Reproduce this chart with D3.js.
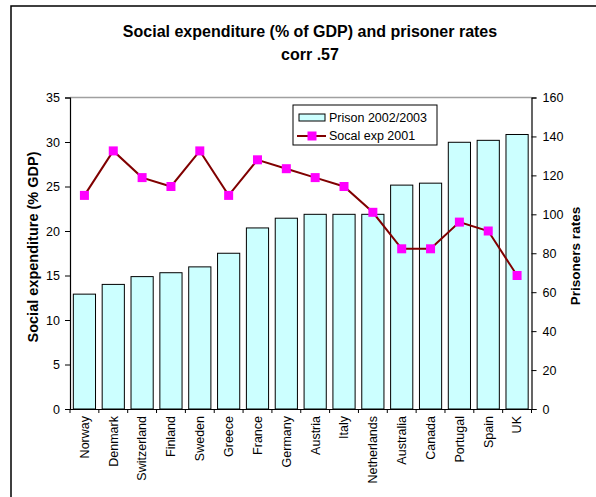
<!DOCTYPE html>
<html><head><meta charset="utf-8">
<script src="https://cdn.jsdelivr.net/npm/d3@7"></script>
<style>body{margin:0;background:#fff}svg{display:block;font-family:"Liberation Sans",Arial,sans-serif}</style>
</head><body><svg id="c" width="596" height="497"></svg>
<script>
const countries = ["Norway","Denmark","Switzerland","Finland","Sweden","Greece","France","Germany","Austria","Italy","Netherlands","Australia","Canada","Portugal","Spain","UK"];
const prison = [59,64,68,70,73,80,93,98,100,100,100,115,116,137,138,141];
const socialExp = [24,29,26,25,29,24,28,27,26,25,22.1,18,18,21,20,15];
const leftTicks = [0,5,10,15,20,25,30,35];
const rightTicks = [0,20,40,60,80,100,120,140,160];
const titleLines = ["Social expenditure (% of GDP) and prisoner rates","corr .57"];
const seriesNames = ["Prison 2002/2003","Socal exp 2001"];

const svg = d3.select("#c");
const L=70, R=531.5, T=97.5, B=409;

// outer border
svg.append("path").attr("d","M11,497V6H596").attr("fill","none").attr("stroke","#000").attr("stroke-width",1.5);

// title
svg.append("text").attr("x",310).attr("y",37).attr("text-anchor","middle").attr("font-size",16).attr("font-weight","bold").text(titleLines[0]);
svg.append("text").attr("x",310).attr("y",60).attr("text-anchor","middle").attr("font-size",16).attr("font-weight","bold").text(titleLines[1]);

const x = d3.scaleBand().domain(countries).range([L,R]).padding(0);
const yL = d3.scaleLinear().domain([0,35]).range([B,T]);
const yR = d3.scaleLinear().domain([0,160]).range([B,T]);
const bw = x.bandwidth()/1.3;

// top plot border
svg.append("line").attr("x1",L).attr("x2",R).attr("y1",T).attr("y2",T).attr("stroke","#a0a0a0").attr("stroke-width",1.5);

// bars
svg.append("g").selectAll("rect").data(countries).join("rect")
  .attr("x",(d)=>x(d)+(x.bandwidth()-bw)/2)
  .attr("y",(d,i)=>yR(prison[i]))
  .attr("width",bw)
  .attr("height",(d,i)=>B-yR(prison[i]))
  .attr("fill","#ccffff").attr("stroke","#000").attr("stroke-width",1);

// line
const line = d3.line().x((d,i)=>x(countries[i])+x.bandwidth()/2).y(d=>yL(d));
svg.append("path").attr("d",line(socialExp)).attr("fill","none").attr("stroke","#800000").attr("stroke-width",2);
svg.append("g").selectAll("rect").data(socialExp).join("rect")
  .attr("x",(d,i)=>x(countries[i])+x.bandwidth()/2-4.5)
  .attr("y",d=>yL(d)-4.5).attr("width",9).attr("height",9).attr("fill","#ff00ff");

// axes
const gl = svg.append("g").attr("transform",`translate(${L},0)`).call(d3.axisLeft(yL).tickValues(leftTicks).tickSize(5).tickPadding(5));
const gr = svg.append("g").attr("transform",`translate(${R},0)`).call(d3.axisRight(yR).tickValues(rightTicks).tickSize(5).tickPadding(6));
const gx = svg.append("g").attr("transform",`translate(0,${B})`).call(d3.axisBottom(x).tickSize(0).tickFormat(""));
[gl,gr,gx].forEach(g=>{g.select(".domain").attr("stroke","#000").attr("stroke-width",1.2);g.selectAll("line").attr("stroke","#000");g.selectAll("text").attr("font-size",12.5).attr("font-family","Liberation Sans, Arial, sans-serif").attr("fill","#000");});
// x tick marks at category boundaries
const bounds = countries.map(d=>x(d)).concat([R]);
svg.append("g").selectAll("line").data(bounds).join("line")
  .attr("x1",d=>d).attr("x2",d=>d).attr("y1",B).attr("y2",B+4).attr("stroke","#000");
// x labels
svg.append("g").selectAll("text").data(countries).join("text")
  .attr("transform",d=>`translate(${x(d)+x.bandwidth()/2},${B+7}) rotate(-90)`)
  .attr("text-anchor","end").attr("dy","0.35em").attr("font-size",12.5).text(d=>d);

// axis titles
svg.append("text").attr("transform","translate(38,247) rotate(-90)").attr("text-anchor","middle").attr("font-size",14.5).attr("font-weight","bold").text("Social expenditure (% GDP)");
svg.append("text").attr("transform","translate(580,256) rotate(-90)").attr("text-anchor","middle").attr("font-size",13.5).attr("font-weight","bold").text("Prisoners rates");

// legend
const lg = svg.append("g");
lg.append("rect").attr("x",293).attr("y",105).attr("width",144).attr("height",40).attr("fill","#fff").attr("stroke","#000");
lg.append("rect").attr("x",299).attr("y",114).attr("width",26).attr("height",7).attr("fill","#ccffff").attr("stroke","#000");
lg.append("text").attr("x",329).attr("y",118).attr("dy","0.35em").attr("font-size",12.5).text(seriesNames[0]);
lg.append("line").attr("x1",297).attr("x2",326).attr("y1",136).attr("y2",136).attr("stroke","#800000").attr("stroke-width",2);
lg.append("rect").attr("x",307.5).attr("y",131.5).attr("width",9).attr("height",9).attr("fill","#ff00ff");
lg.append("text").attr("x",329).attr("y",136).attr("dy","0.35em").attr("font-size",12.5).text(seriesNames[1]);
</script></body></html>
